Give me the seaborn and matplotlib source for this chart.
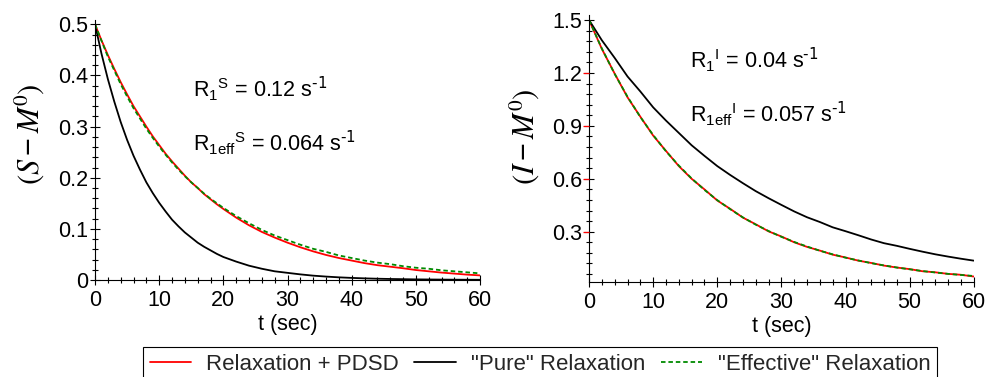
import numpy as np
import pandas as pd
import matplotlib
matplotlib.use("Agg")
import matplotlib.pyplot as plt
from matplotlib.ticker import MultipleLocator
import seaborn as sns

# ---------------- data ----------------
# left panel time grid (finer at early times)
t_S = [0, 1, 2, 3, 4, 5, 6, 7, 8, 9, 10, 11, 12, 13, 14, 15, 16, 17, 18, 19, 20,
       22, 24, 26, 28, 30, 32, 34, 36, 38, 40, 42, 44, 46, 48, 50, 52, 54, 56, 58, 60]

S_pdsd = [0.500, 0.469, 0.440, 0.413, 0.387, 0.363, 0.340, 0.320, 0.300, 0.281,
          0.264, 0.247, 0.232, 0.218, 0.204, 0.191, 0.180, 0.168, 0.158, 0.148,
          0.139, 0.122, 0.107, 0.094, 0.083, 0.073, 0.064, 0.056, 0.049, 0.043,
          0.038, 0.033, 0.029, 0.026, 0.023, 0.0195, 0.017, 0.0145, 0.0125, 0.0105, 0.009]
S_pure = [0.500, 0.443, 0.393, 0.349, 0.309, 0.274, 0.243, 0.216, 0.191, 0.170,
          0.151, 0.134, 0.118, 0.105, 0.093, 0.083, 0.073, 0.065, 0.058, 0.051,
          0.045, 0.036, 0.028, 0.022, 0.017, 0.014, 0.011, 0.0085, 0.0067, 0.0052,
          0.0041, 0.0032, 0.0025, 0.0020, 0.0016, 0.0012, 0.0010, 0.0008, 0.0006, 0.0005, 0.0004]
S_eff = [0.500, 0.468, 0.437, 0.410, 0.383, 0.359, 0.336, 0.316, 0.296, 0.278,
         0.261, 0.245, 0.230, 0.216, 0.203, 0.191, 0.180, 0.169, 0.159, 0.150,
         0.141, 0.125, 0.111, 0.098, 0.087, 0.078, 0.069, 0.061, 0.055, 0.048,
         0.043, 0.038, 0.034, 0.031, 0.027, 0.024, 0.022, 0.019, 0.017, 0.015, 0.013]

# right panel time grid
t_I = [0, 2, 4, 6, 8, 10, 12, 14, 16, 18, 20, 22, 24, 26, 28, 30,
       32, 34, 36, 38, 40, 42, 44, 46, 48, 50, 52, 54, 56, 58, 60]

I_pdsd = [1.500, 1.336, 1.196, 1.062, 0.952, 0.845, 0.758, 0.672, 0.600, 0.540,
          0.477, 0.430, 0.380, 0.342, 0.302, 0.273, 0.240, 0.214, 0.193, 0.170,
          0.154, 0.136, 0.123, 0.108, 0.097, 0.088, 0.076, 0.070, 0.061, 0.056, 0.046]
I_pure = [1.500, 1.385, 1.285, 1.180, 1.095, 1.005, 0.930, 0.860, 0.790, 0.730,
          0.672, 0.622, 0.575, 0.530, 0.490, 0.452, 0.415, 0.382, 0.355, 0.325,
          0.303, 0.280, 0.256, 0.235, 0.220, 0.203, 0.187, 0.172, 0.159, 0.147, 0.136]
I_eff = [1.500, 1.338, 1.194, 1.065, 0.950, 0.848, 0.756, 0.675, 0.602, 0.537,
         0.479, 0.428, 0.381, 0.340, 0.304, 0.271, 0.242, 0.216, 0.192, 0.172,
         0.153, 0.137, 0.122, 0.109, 0.097, 0.087, 0.077, 0.069, 0.061, 0.055, 0.049]

series_labels = ["Relaxation + PDSD", '"Pure" Relaxation', '"Effective" Relaxation']
x_ticks = [0, 10, 20, 30, 40, 50, 60]
S_ticks = [0, 0.1, 0.2, 0.3, 0.4, 0.5]
S_ticklabels = ["0", "0.1", "0.2", "0.3", "0.4", "0.5"]
I_ticks = [0.3, 0.6, 0.9, 1.2, 1.5]
I_ticklabels = ["0.3", "0.6", "0.9", "1.2", "1.5"]

# ---------------- style ----------------
sns.set_theme(style="ticks")
plt.rcParams["font.family"] = ["Liberation Sans", "DejaVu Sans"]
plt.rcParams["mathtext.default"] = "regular"
FS = 15.5

RED = "#ff0000"
BLACK = "#000000"
GREEN = "#008a00"

fig = plt.figure(figsize=(9.93, 3.77), dpi=100)
rect1 = [0.0957, 0.2573, 0.3877, 0.6889]
rect2 = [0.5932, 0.2520, 0.3874, 0.7080]
ax1 = fig.add_axes(rect1)
ax2 = fig.add_axes(rect2)

def draw(ax, tt, red, black, green):
    sns.lineplot(x=tt, y=red, ax=ax, color=RED, lw=1.3, label=series_labels[0], legend=False)
    sns.lineplot(x=tt, y=black, ax=ax, color=BLACK, lw=1.3, label=series_labels[1], legend=False)
    sns.lineplot(x=tt, y=green, ax=ax, color=GREEN, lw=1.3, linestyle=(0, (2.5, 1.6)),
                 label=series_labels[2], legend=False)

draw(ax1, t_S, S_pdsd, S_pure, S_eff)
draw(ax2, t_I, I_pdsd, I_pure, I_eff)

for ax in (ax1, ax2):
    ax.spines["top"].set_visible(False)
    ax.spines["right"].set_visible(False)
    for s in ("left", "bottom"):
        ax.spines[s].set_color("black")
        ax.spines[s].set_linewidth(0.8)
    ax.set_xlim(0, 60)
    ax.set_xticks(x_ticks)
    ax.set_xticklabels([str(v) for v in x_ticks])
    ax.xaxis.set_minor_locator(MultipleLocator(2))
    ax.tick_params(which="major", direction="inout", length=6.5, width=0.8, color="black",
                   labelsize=FS, labelcolor="black")
    ax.tick_params(which="minor", direction="inout", length=4.3, width=0.8, color="black")
    ax.tick_params(axis="x", which="major", pad=4.0)
    ax.tick_params(axis="y", which="major", pad=1.8)
    ax.set_xlabel("t (sec)", fontsize=FS, labelpad=2, color="black")
    ax.grid(False)

I_ylim = (0.015, 1.528)

ax1.set_ylim(0, 0.508)
ax1.set_yticks(S_ticks)
ax1.set_yticklabels(S_ticklabels)
ax1.yaxis.set_minor_locator(MultipleLocator(0.02))

ax2.set_ylim(*I_ylim)
ax2.set_yticks(I_ticks)
ax2.set_yticklabels(I_ticklabels)
ax2.yaxis.set_minor_locator(MultipleLocator(0.06))

# overlay axes (not shared): red outer tick marks on right panel major y ticks
ax3 = fig.add_axes(rect2)
ax3.patch.set_visible(False)
for s in ax3.spines.values():
    s.set_visible(False)
ax3.set_xticks([])
ax3.set_ylim(*I_ylim)
ax3.set_yticks(I_ticks[:-1])
ax3.set_yticklabels([])
ax3.yaxis.set_minor_locator(MultipleLocator(10))
ax3.tick_params(axis="y", which="major", direction="out", length=4.3, width=0.9,
                color=RED, left=True, right=False, labelleft=False, labelright=False)
ax3.tick_params(axis="y", which="minor", left=False, right=False)

# y labels
ax1.set_ylabel(r"$\left(\mathit{S}-\mathit{M}^{\mathrm{0}}\right)$", fontsize=22,
               math_fontfamily="stix", color="black")
ax1.yaxis.set_label_coords(-0.125, 0.56)
ax2.set_ylabel(r"$\left(\mathit{I}-\mathit{M}^{\mathrm{0}}\right)$", fontsize=22,
               math_fontfamily="stix", color="black")
ax2.yaxis.set_label_coords(-0.122, 0.545)

# annotations
ax1.text(0.2545, 0.705, r"R$_1$$^S$ = 0.12 s$^{\text{-1}}$", transform=ax1.transAxes,
         fontsize=FS, va="baseline", ha="left", color="black")
ax1.text(0.2545, 0.50, r"R$_{1eff}$$^S$ = 0.064 s$^{\text{-1}}$", transform=ax1.transAxes,
         fontsize=FS, va="baseline", ha="left", color="black")
ax2.text(0.262, 0.802, r"R$_1$$^I$ = 0.04 s$^{\text{-1}}$", transform=ax2.transAxes,
         fontsize=FS, va="baseline", ha="left", color="black")
ax2.text(0.262, 0.60, r"R$_{1eff}$$^I$ = 0.057 s$^{\text{-1}}$", transform=ax2.transAxes,
         fontsize=FS, va="baseline", ha="left", color="black")

# legend
handles, labels = ax1.get_legend_handles_labels()
leg = fig.legend(handles, labels, loc="upper center", bbox_to_anchor=(540 / 993, 1 - 347 / 377),
                 ncol=3, fontsize=16, frameon=True, fancybox=False, framealpha=1,
                 edgecolor="black", borderpad=0.3, handlelength=1.85, handletextpad=0.7,
                 columnspacing=0.7, borderaxespad=0)
leg.get_frame().set_linewidth(0.8)

fig.savefig("out.png", dpi=100)
